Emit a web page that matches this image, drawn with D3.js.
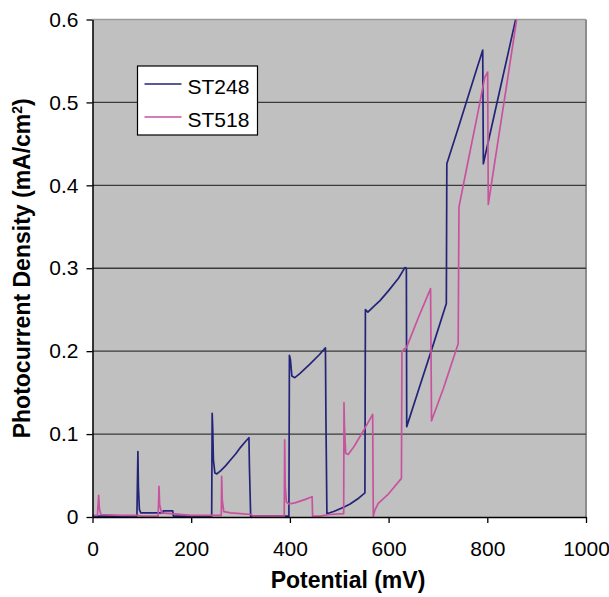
<!DOCTYPE html>
<html>
<head>
<meta charset="utf-8">
<script src="https://cdn.jsdelivr.net/npm/d3@7"></script>
<style>
  body { margin: 0; background: #fff; }
  text { font-family: "Liberation Sans", Arial, sans-serif; }
</style>
</head>
<body>
<div id="wrapper"></div>
<script>
// potential (mV) and photocurrent density (mA/cm2)
const st248Potential = [0, 90, 92, 93, 95, 98, 143, 143.5, 162.5, 164, 241.5, 242.5, 243.5, 245, 248, 252, 260, 270, 280, 290, 300, 310, 317, 318, 320.5, 398, 399, 401, 404, 410, 420, 440, 460, 472, 473, 475, 490, 510, 522, 540, 552, 553, 558, 570, 582.6, 600, 620, 633, 636, 636.7, 660, 690, 717, 718, 740, 760, 780, 790.7, 792, 810, 830, 857.5]
const st248Current = [0.001, 0.001, 0.079, 0.037, 0.009, 0.005, 0.005, 0.0075, 0.0075, 0.001, 0.001, 0.125, 0.109, 0.069, 0.053, 0.052, 0.056, 0.062, 0.069, 0.076, 0.084, 0.091, 0.0956, 0.06, 0.001, 0.001, 0.195, 0.19, 0.17, 0.168, 0.173, 0.184, 0.196, 0.204, 0.12, 0.004, 0.007, 0.012, 0.0157, 0.023, 0.029, 0.25, 0.247, 0.254, 0.261, 0.273, 0.288, 0.3008, 0.3, 0.109, 0.152, 0.207, 0.2575, 0.426, 0.467, 0.505, 0.543, 0.563, 0.426, 0.474, 0.527, 0.6]

const st518Potential = [0, 10, 12.5, 14, 17, 60, 90, 100, 133, 134.8, 136, 140, 160, 200, 250, 261, 261.7, 263, 266, 280, 300, 322, 325, 388.5, 389.4, 390.5, 393, 398, 410, 430, 445, 446, 461, 480, 509, 509.6, 510.5, 513, 518, 530, 550, 567.7, 569, 572, 579, 600, 626, 627, 632, 636, 660, 685, 687, 711, 741, 742.6, 760, 780, 795, 800.7, 802, 820, 840, 859.5]
const st518Current = [0.002, 0.002, 0.026, 0.01, 0.003, 0.002, 0.002, 0.001, 0.001, 0.037, 0.015, 0.005, 0.004, 0.002, 0.002, 0.002, 0.049, 0.02, 0.0064, 0.005, 0.004, 0.003, 0.001, 0.001, 0.093, 0.037, 0.018, 0.0157, 0.017, 0.021, 0.0245, 0.001, 0.001, 0.003, 0.004, 0.138, 0.109, 0.077, 0.0755, 0.085, 0.105, 0.1237, 0.001, 0.008, 0.0165, 0.028, 0.0466, 0.199, 0.203, 0.204, 0.24, 0.2755, 0.116, 0.155, 0.209, 0.374, 0.426, 0.485, 0.5305, 0.5366, 0.377, 0.447, 0.524, 0.6]

const seriesNames = ["ST248", "ST518"]
const seriesColors = ["#23237a", "#c9529f"]
const xTicks = [0, 200, 400, 600, 800, 1000]
const yTicks = [0, 0.1, 0.2, 0.3, 0.4, 0.5, 0.6]

// dimensions
let dimensions = {
  width: 609,
  height: 597,
  margin: { top: 19.5, right: 23, bottom: 80, left: 92.5 }
}
dimensions.boundedWidth = dimensions.width - dimensions.margin.left - dimensions.margin.right
dimensions.boundedHeight = dimensions.height - dimensions.margin.top - dimensions.margin.bottom

const svg = d3.select("#wrapper").append("svg")
  .attr("width", dimensions.width)
  .attr("height", dimensions.height)

const bounds = svg.append("g")
  .attr("transform", `translate(${dimensions.margin.left},${dimensions.margin.top})`)

const xScale = d3.scaleLinear().domain([0, 1000]).range([0, dimensions.boundedWidth])
const yScale = d3.scaleLinear().domain([0, 0.6]).range([dimensions.boundedHeight, 0])

// plot background
bounds.append("rect")
  .attr("width", dimensions.boundedWidth)
  .attr("height", dimensions.boundedHeight)
  .attr("fill", "#c0c0c0")
bounds.append("line")
  .attr("x1", 0).attr("x2", dimensions.boundedWidth)
  .attr("stroke", "#9a9a9a").attr("stroke-width", 1.5)
bounds.append("line")
  .attr("x1", dimensions.boundedWidth).attr("x2", dimensions.boundedWidth)
  .attr("y2", dimensions.boundedHeight)
  .attr("stroke", "#8c8c8c").attr("stroke-width", 2)

// gridlines
bounds.append("g")
  .selectAll("line")
  .data(yTicks.filter(d => d > 0 && d < 0.6))
  .join("line")
    .attr("x1", 0).attr("x2", dimensions.boundedWidth)
    .attr("y1", d => yScale(d)).attr("y2", d => yScale(d))
    .attr("stroke", "#3a3a3a").attr("stroke-width", 1.4)

bounds.append("clipPath").attr("id", "clip")
  .append("rect")
    .attr("width", dimensions.boundedWidth)
    .attr("height", dimensions.boundedHeight)

const lineGenerator = d3.line()
  .x(d => xScale(d[0]))
  .y(d => yScale(d[1]))

const series = [
  d3.zip(st248Potential, st248Current),
  d3.zip(st518Potential, st518Current)
]

bounds.append("g")
    .attr("clip-path", "url(#clip)")
  .selectAll("path")
  .data(series)
  .join("path")
    .attr("d", lineGenerator)
    .attr("fill", "none")
    .attr("stroke", (d, i) => seriesColors[i])
    .attr("stroke-width", 1.7)
    .attr("stroke-linejoin", "round")

// axes
const xAxis = bounds.append("g")
  .attr("transform", `translate(0,${dimensions.boundedHeight})`)
  .call(d3.axisBottom(xScale).tickValues(xTicks).tickSize(6).tickPadding(18).tickSizeOuter(0)
    .tickFormat(d3.format("d")))
const yAxis = bounds.append("g")
  .call(d3.axisLeft(yScale).tickValues(yTicks).tickSize(6).tickPadding(8).tickSizeOuter(0)
    .tickFormat(d => d === 0 ? "0" : d3.format(".1f")(d)))

for (const ax of [xAxis, yAxis]) {
  ax.select(".domain").attr("stroke", "#000").attr("stroke-width", 1.5)
  ax.selectAll(".tick line").attr("stroke", "#000").attr("stroke-width", 1.3)
  ax.selectAll(".tick text")
    .attr("fill", "#000")
    .style("font-family", "'Liberation Sans', Arial, sans-serif")
    .style("font-size", "21px")
}

// axis titles
svg.append("text")
  .attr("x", 348)
  .attr("y", 588)
  .attr("text-anchor", "middle")
  .style("font-size", "23px")
  .style("font-weight", "bold")
  .text("Potential (mV)")

const yTitle = svg.append("text")
  .attr("transform", `translate(30,${dimensions.margin.top + dimensions.boundedHeight / 2}) rotate(-90)`)
  .attr("text-anchor", "middle")
  .style("font-size", "23px")
  .style("font-weight", "bold")
yTitle.append("tspan").text("Photocurrent Density (mA/cm")
yTitle.append("tspan").attr("dy", -8).style("font-size", "14px").text("2")
yTitle.append("tspan").attr("dy", 8).text(")")

// legend
const legend = svg.append("g").attr("transform", "translate(137.5,66)")
legend.append("rect")
  .attr("width", 120)
  .attr("height", 69)
  .attr("fill", "#fff")
  .attr("stroke", "#000")
  .attr("stroke-width", 1.2)
const legendItems = legend.selectAll(".item")
  .data(seriesNames)
  .join("g")
    .attr("class", "item")
    .attr("transform", (d, i) => `translate(0,${18 + i * 33})`)
legendItems.append("line")
  .attr("x1", 7).attr("x2", 44)
  .attr("stroke", (d, i) => seriesColors[i])
  .attr("stroke-width", 1.7)
legendItems.append("text")
  .attr("x", 50)
  .attr("y", 10)
  .style("font-size", "21px")
  .text(d => d)
</script>
</body>
</html>
